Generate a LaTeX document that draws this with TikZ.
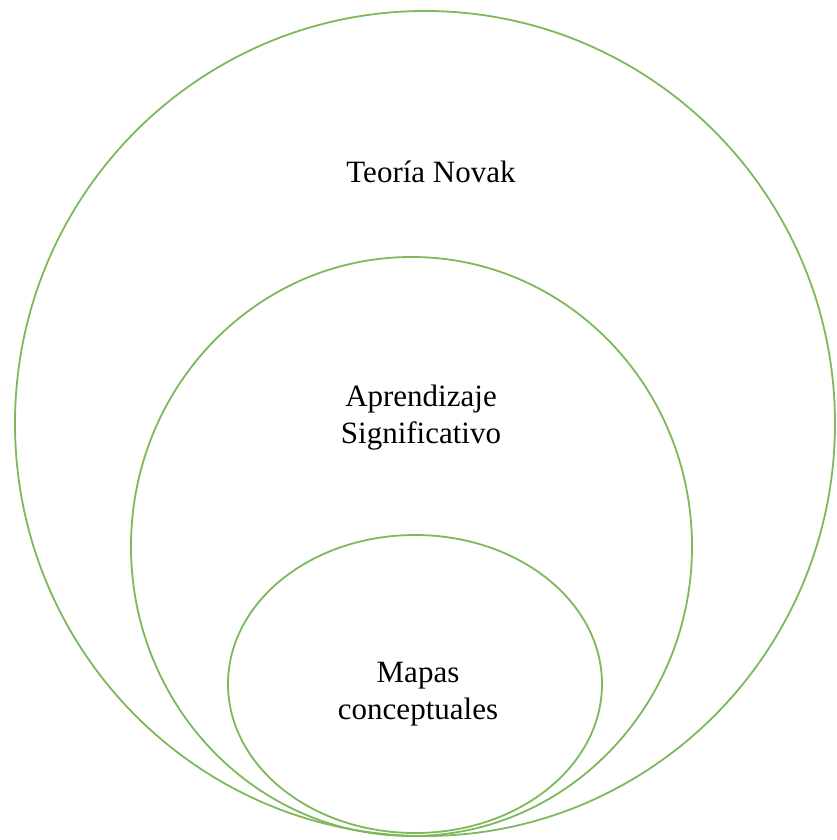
\documentclass[tikz,border=0pt]{standalone}
\usepackage{fontspec}
\setmainfont{Liberation Serif}
\definecolor{ringgreen}{HTML}{7DB85A}
\begin{document}
\begin{tikzpicture}[x=1pt,y=-1pt,
  ring/.style={draw=ringgreen,line width=1.8pt},
  lbl/.style={font=\fontsize{31}{37}\selectfont,align=center,text=black}]
\useasboundingbox (0,0) rectangle (836,840);
\draw[ring] (425,423.5) ellipse [x radius=410,y radius=412.5];
\draw[ring] (411.5,546.5) ellipse [x radius=280.5,y radius=289.5];
\draw[ring] (415,684) ellipse [x radius=187,y radius=149];
\node[lbl] (outer) at (431,172) {Teoría Novak};
\node[lbl] (middle) at (421,418) {Aprendizaje\\Significativo};
\node[lbl] (inner) at (418,694) {Mapas\\conceptuales};
\end{tikzpicture}
\end{document}
